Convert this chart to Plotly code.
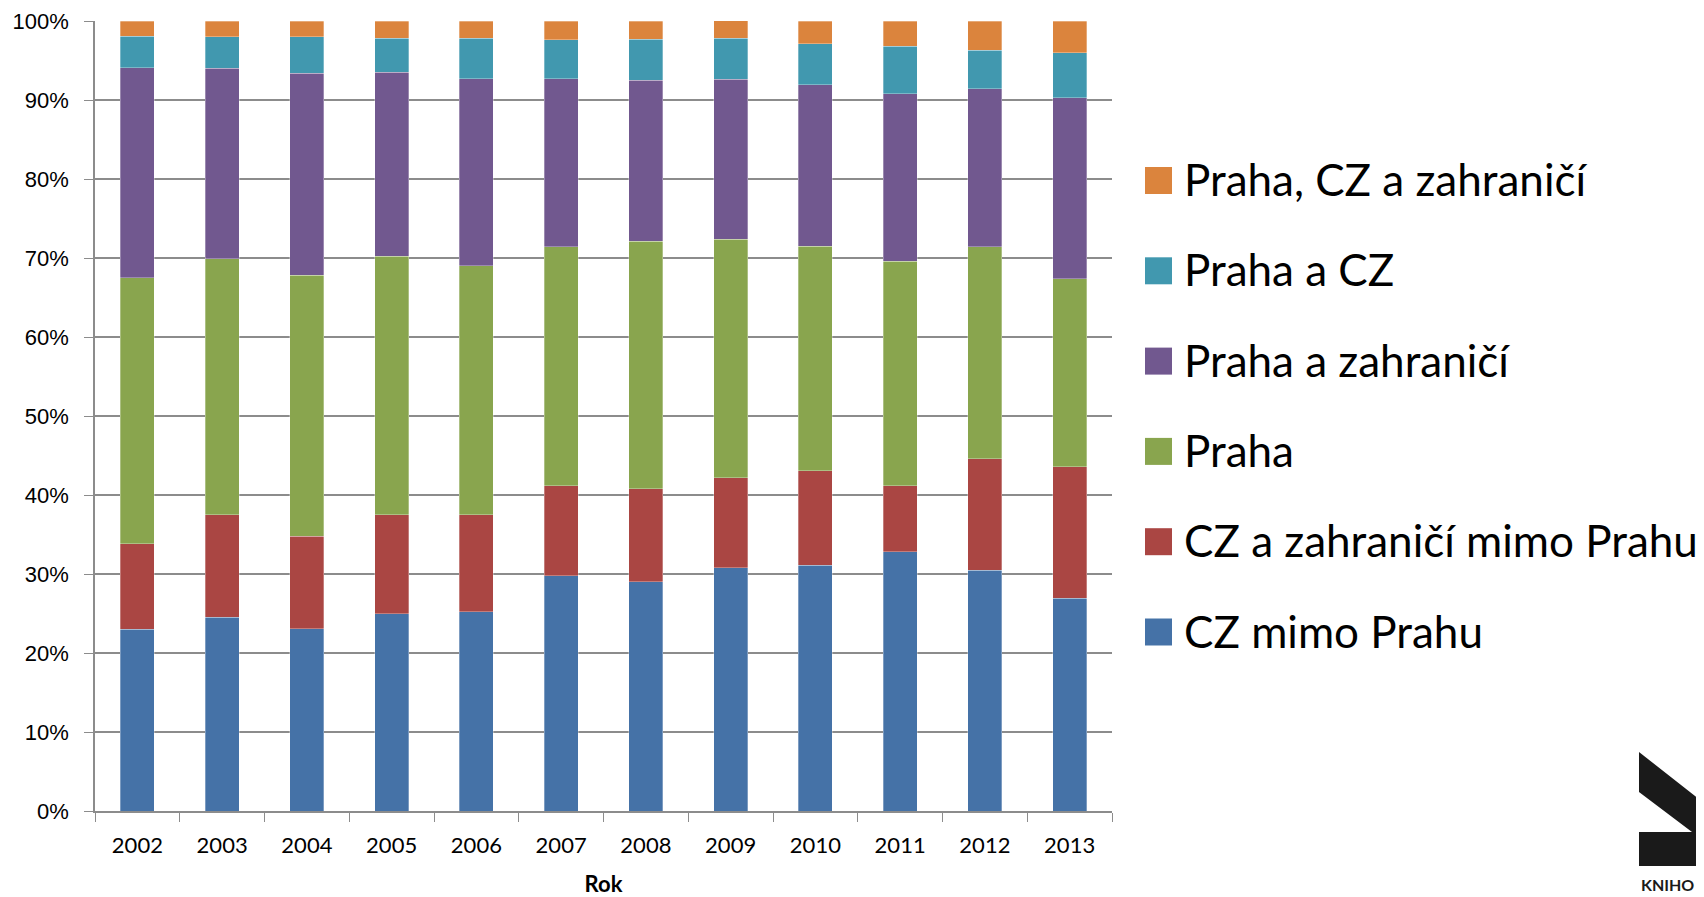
import plotly.graph_objects as go

years = ["2002", "2003", "2004", "2005", "2006", "2007", "2008", "2009", "2010", "2011", "2012", "2013"]

cz_mimo_prahu = [23.0, 24.5, 23.1, 25.0, 25.2, 29.8, 29.0, 30.8, 31.1, 32.8, 30.5, 26.9]
cz_zahranici_mimo_prahu = [10.8, 13.0, 11.7, 12.5, 12.3, 11.4, 11.8, 11.4, 12.0, 8.4, 14.1, 16.7]
praha = [33.7, 32.4, 33.0, 32.7, 31.5, 30.2, 31.3, 30.2, 28.4, 28.4, 26.8, 23.8]
praha_zahranici = [26.6, 24.1, 25.6, 23.3, 23.7, 21.3, 20.4, 20.2, 20.4, 21.2, 20.0, 22.9]
praha_cz = [4.0, 4.0, 4.6, 4.3, 5.1, 4.9, 5.2, 5.2, 5.2, 6.0, 4.9, 5.7]
praha_cz_zahranici = [1.9, 2.0, 2.0, 2.2, 2.2, 2.4, 2.3, 2.4, 2.9, 3.2, 3.7, 4.0]

series_names = ["CZ mimo Prahu", "CZ a zahraničí mimo Prahu", "Praha",
                "Praha a zahraničí", "Praha a CZ", "Praha, CZ a zahraničí"]
series_values = [cz_mimo_prahu, cz_zahranici_mimo_prahu, praha,
                 praha_zahranici, praha_cz, praha_cz_zahranici]
colors = ["#4572A7", "#AA4643", "#89A54E", "#71588F", "#4198AF", "#DB843D"]

y_ticks = [0, 10, 20, 30, 40, 50, 60, 70, 80, 90, 100]
y_tick_labels = [f"{v}%" for v in y_ticks]

FONT = "Lato, 'Open Sans', sans-serif"
TICK_FONT_Y = "'Liberation Sans', Arial, sans-serif"

fig = go.Figure()
for name, vals, col in zip(series_names, series_values, colors):
    fig.add_trace(go.Bar(
        x=years, y=vals, name=name,
        marker=dict(color=col, line=dict(width=0.6, color="rgba(255,255,255,0.5)")),
        showlegend=False,
    ))

# page has an 8px body margin: work in page pixels, convert to figure pixels
OFF = 8
W, H = 1704 - OFF, 897 - OFF
L, R, T, B = 95 - OFF, 1112 - OFF, 21 - OFF, 811 - OFF
pw, ph = R - L, B - T

def px_x(x):
    return (x - OFF - L) / pw

def px_y(y):
    return (B - (y - OFF)) / ph

shapes = []
annotations = []
# custom legend (top entry = last series)
leg_centers = [180.5, 270.8, 361.1, 451.4, 541.7, 632.0]
for i, (name, col) in enumerate(zip(series_names[::-1], colors[::-1])):
    cy = leg_centers[i]
    shapes.append(dict(type="rect", xref="paper", yref="paper",
                       x0=px_x(1145), x1=px_x(1172), y0=px_y(cy + 13.5), y1=px_y(cy - 13.5),
                       fillcolor=col, line=dict(width=0)))
    annotations.append(dict(text=name, xref="paper", yref="paper",
                            x=px_x(1182), y=px_y(cy - 1.5), xanchor="left", yanchor="middle",
                            showarrow=False, font=dict(family=FONT, size=44, color="#000000")))

# logo fragment at bottom right
logo_pts = [(1639, 752), (1704, 803), (1704, 866), (1639, 866), (1639, 832), (1692, 832), (1639, 792)]
path = "M " + " L ".join(f"{px_x(x):.5f},{px_y(y):.5f}" for x, y in logo_pts) + " Z"
shapes.append(dict(type="path", xref="paper", yref="paper", path=path,
                   fillcolor="#1a1a1a", line=dict(width=0)))
annotations.append(dict(text="<b>KNIHO</b>", xref="paper", yref="paper",
                        x=px_x(1639), y=px_y(896), xanchor="left", yanchor="bottom",
                        showarrow=False, font=dict(family=FONT, size=16, color="#1a1a1a")))

fig.update_layout(
    barmode="stack",
    bargap=0.6,
    width=W, height=H,
    margin=dict(l=L, r=W - R, t=T, b=H - B, autoexpand=False),
    paper_bgcolor="white",
    plot_bgcolor="white",
    font=dict(family=FONT, size=22, color="#000000"),
    shapes=shapes,
    annotations=annotations,
    xaxis=dict(
        type="category",
        showline=True, linecolor="#8C8C8C", linewidth=1.5,
        ticks="outside", ticklen=9, tickcolor="#8C8C8C", tickwidth=1.3,
        tickson="boundaries",
        tickfont=dict(family=FONT, size=22),
        ticklabelstandoff=14,
        title=dict(text="<b>Rok</b>", font=dict(family=FONT, size=22), standoff=27),
        showgrid=False,
    ),
    yaxis=dict(
        range=[0, 100],
        tickmode="array", tickvals=y_ticks, ticktext=y_tick_labels,
        showgrid=True, gridcolor="#8C8C8C", gridwidth=1.5,
        showline=True, linecolor="#8C8C8C", linewidth=1.5,
        ticks="outside", ticklen=9, tickcolor="#8C8C8C", tickwidth=1.3,
        tickfont=dict(family=TICK_FONT_Y, size=22),
        ticklabelstandoff=11,
        ticklabeloverflow="allow",
        zeroline=False,
    ),
)

fig.write_html("out.html")
